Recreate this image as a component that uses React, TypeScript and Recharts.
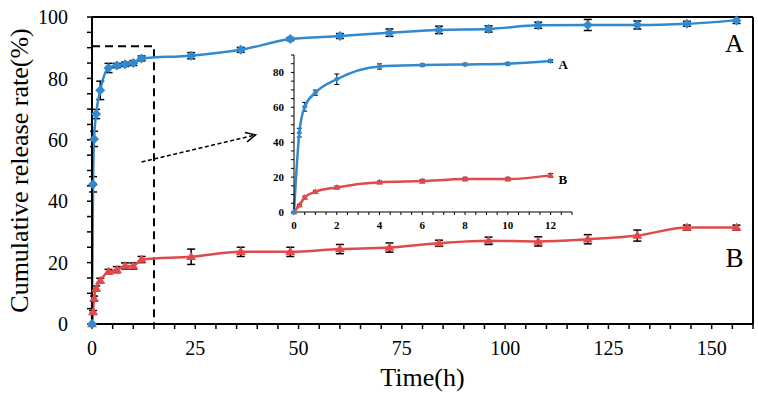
import React from "react";
import {
  LineChart,
  Line,
  XAxis,
  YAxis,
  ErrorBar,
  ReferenceLine,
  ReferenceArea,
  LabelList,
} from "recharts";

// sampling times (h) and release (%)
const times = [0, 0.25, 0.5, 1, 2, 4, 6, 8, 10, 12, 24, 36, 48, 60, 72, 84, 96, 108, 120, 132, 144, 156];
const releaseA = [0, 45.5, 60.3, 68.4, 76.1, 83.4, 84.2, 84.6, 85.0, 86.5, 87.4, 89.3, 92.8, 93.8, 94.9, 95.8, 96.1, 97.3, 97.4, 97.4, 97.8, 98.9];
const errA = [0, 2.5, 2.5, 1.5, 3, 1.5, 0.7, 0.7, 0.8, 0.8, 1, 0.8, 0.5, 0.8, 1.2, 1.2, 1, 1, 1.8, 1.3, 0.8, 1];
const releaseB = [0, 3.9, 8.3, 11.6, 14.1, 17.0, 17.7, 18.9, 18.9, 21.0, 21.9, 23.5, 23.5, 24.4, 24.9, 26.3, 27.1, 26.9, 27.6, 28.8, 31.4, 31.4];
const errB = [0, 0.5, 0.8, 0.8, 0.8, 0.8, 1, 1, 1, 1, 2.5, 1.5, 1.5, 1.5, 1.5, 1, 1.2, 1.5, 1.5, 1.8, 0.8, 0.8];

const mainXTicks = [0, 5, 10, 15, 20, 25, 30, 35, 40, 45, 50, 55, 60, 65, 70, 75, 80, 85, 90, 95, 100, 105, 110, 115, 120, 125, 130, 135, 140, 145, 150, 155, 160];
const mainYTicks = [0, 5, 10, 15, 20, 25, 30, 35, 40, 45, 50, 55, 60, 65, 70, 75, 80, 85, 90, 95, 100];
const insetXTicks = [0, 0.5, 1, 1.5, 2, 2.5, 3, 3.5, 4, 4.5, 5, 5.5, 6, 6.5, 7, 7.5, 8, 8.5, 9, 9.5, 10, 10.5, 11, 11.5, 12, 12.5, 13];
const insetYTicks = [0, 5, 10, 15, 20, 25, 30, 35, 40, 45, 50, 55, 60, 65, 70, 75, 80, 85, 90];

const rows = times.map((t, i) => ({ t, a: releaseA[i], aErr: errA[i], b: releaseB[i], bErr: errB[i] }));
const insetRows = rows.filter((r) => r.t <= 12);

const BLUE = "#3189cf";
const RED = "#e04a4b";
const SERIF = "'Liberation Serif', 'Times New Roman', serif";

const diamond = (r: number) => (p: any) => {
  const { cx, cy, index } = p;
  if (cx == null || cy == null) return <g key={`d${r}-${index}`} />;
  return (
    <path
      key={`d${r}-${index}`}
      d={`M${cx},${cy - r}L${cx + r},${cy}L${cx},${cy + r}L${cx - r},${cy}Z`}
      fill={BLUE}
    />
  );
};

const triangle = (r: number) => (p: any) => {
  const { cx, cy, index } = p;
  if (cx == null || cy == null) return <g key={`t${r}-${index}`} />;
  return (
    <path
      key={`t${r}-${index}`}
      d={`M${cx},${cy - r}L${cx + r},${cy + r * 0.65}L${cx - r},${cy + r * 0.65}Z`}
      fill={RED}
    />
  );
};

// dashed arrow from the zoom box to the inset
const arrowShape = (p: any) => {
  const { x1, y1, x2, y2 } = p;
  const ang = Math.atan2(y2 - y1, x2 - x1);
  const h = 11;
  const a1 = ang + Math.PI - 0.45;
  const a2 = ang + Math.PI + 0.45;
  return (
    <g>
      <line x1={x1} y1={y1} x2={x2} y2={y2} stroke="#000" strokeWidth={1.5} strokeDasharray="4 2.5" />
      <polyline
        points={`${x2 + h * Math.cos(a1)},${y2 + h * Math.sin(a1)} ${x2},${y2} ${x2 + h * Math.cos(a2)},${y2 + h * Math.sin(a2)}`}
        fill="none"
        stroke="#000"
        strokeWidth={1.5}
      />
    </g>
  );
};

const endLabel = (text: string, dx: number, dy: number, size: number, bold: boolean, anchor: string) => (p: any) => {
  if (p.index !== p.lastIndex) return null;
  return (
    <text
      x={p.x + dx}
      y={p.y + dy}
      textAnchor={anchor}
      dominantBaseline="central"
      fontFamily={SERIF}
      fontSize={size}
      fontWeight={bold ? "bold" : "normal"}
      fill="#000"
    >
      {text}
    </text>
  );
};

function MainChart() {
  const last = rows.length - 1;
  return (
    <LineChart
      width={758}
      height={402}
      data={rows}
      margin={{ top: 17, right: 5, bottom: 8, left: 0 }}
    >
      <XAxis
        type="number"
        dataKey="t"
        domain={[0, 160]}
        ticks={mainXTicks}
        interval={0}
        tickFormatter={(v) => (v % 25 === 0 ? String(v) : "")}
        tick={{ fill: "#000", fontSize: 20, fontFamily: SERIF }}
        axisLine={{ stroke: "#000", strokeWidth: 2 }}
        tickLine={{ stroke: "#000", strokeWidth: 1.5 }}
        tickSize={5}
        tickMargin={12}
        height={70}
        label={{
          value: "Time(h)",
          position: "insideBottom",
          offset: 8,
          style: { fill: "#000", fontSize: 26, fontFamily: SERIF },
        }}
      />
      <YAxis
        type="number"
        domain={[0, 100]}
        ticks={mainYTicks}
        interval={0}
        tickFormatter={(v) => (v % 20 === 0 ? String(v) : "")}
        tick={{ fill: "#000", fontSize: 20, fontFamily: SERIF }}
        axisLine={{ stroke: "#000", strokeWidth: 2 }}
        tickLine={{ stroke: "#000", strokeWidth: 1.5 }}
        tickSize={5}
        tickMargin={19}
        width={92}
        label={{
          value: "Cumulative release rate(%)",
          angle: -90,
          position: "insideLeft",
          offset: 19,
          style: { fill: "#000", fontSize: 26, fontFamily: SERIF, textAnchor: "middle" },
        }}
      />
      <ReferenceLine y={100} stroke="#000" strokeWidth={2} />
      <ReferenceLine x={160} stroke="#000" strokeWidth={2} />
      <ReferenceArea
        x1={0}
        x2={15}
        y1={0}
        y2={90.5}
        fill="none"
        fillOpacity={0}
        stroke="#000"
        strokeWidth={2}
        strokeDasharray="8 5"
      />
      <ReferenceLine
        segment={[
          { x: 12, y: 52.8 },
          { x: 39.6, y: 61.6 },
        ]}
        shape={arrowShape}
      />
      <Line
        type="monotone"
        dataKey="b"
        stroke={RED}
        strokeWidth={2.5}
        dot={triangle(5)}
        isAnimationActive={false}
      >
        <ErrorBar dataKey="bErr" width={4} stroke="#000" strokeWidth={1.5} direction="y" isAnimationActive={false} />
        <LabelList dataKey="b" content={(p: any) => endLabel("B", -2, 30, 27, false, "middle")({ ...p, lastIndex: last })} />
      </Line>
      <Line
        type="monotone"
        dataKey="a"
        stroke={BLUE}
        strokeWidth={2.5}
        dot={diamond(5)}
        isAnimationActive={false}
      >
        <ErrorBar dataKey="aErr" width={4} stroke="#000" strokeWidth={1.5} direction="y" isAnimationActive={false} />
        <LabelList dataKey="a" content={(p: any) => endLabel("A", -2, 23, 26, false, "middle")({ ...p, lastIndex: last })} />
      </Line>
    </LineChart>
  );
}

function InsetChart() {
  const last = insetRows.length - 1;
  return (
    <LineChart
      width={350}
      height={200}
      data={insetRows}
      margin={{ top: 10, right: 8, bottom: 8, left: 24 }}
    >
      <XAxis
        type="number"
        dataKey="t"
        domain={[0, 13]}
        ticks={insetXTicks}
        interval={0}
        tickFormatter={(v) => (v % 2 === 0 ? String(v) : "")}
        tick={{ fill: "#000", fontSize: 11, fontFamily: SERIF, fontWeight: "bold" }}
        axisLine={{ stroke: "#000", strokeWidth: 1 }}
        tickLine={{ stroke: "#000", strokeWidth: 1 }}
        tickSize={3}
        tickMargin={6}
        height={25}
      />
      <YAxis
        type="number"
        domain={[0, 90]}
        ticks={insetYTicks}
        interval={0}
        tickFormatter={(v) => (v % 20 === 0 ? String(v) : "")}
        tick={{ fill: "#000", fontSize: 11, fontFamily: SERIF, fontWeight: "bold" }}
        axisLine={{ stroke: "#000", strokeWidth: 1 }}
        tickLine={{ stroke: "#000", strokeWidth: 1 }}
        tickSize={3}
        tickMargin={7}
        width={40}
      />
      <Line
        type="monotone"
        dataKey="b"
        stroke={RED}
        strokeWidth={2.5}
        dot={triangle(3.5)}
        isAnimationActive={false}
      >
        <ErrorBar dataKey="bErr" width={2.5} stroke="#000" strokeWidth={1} direction="y" isAnimationActive={false} />
        <LabelList dataKey="b" content={(p: any) => endLabel("B", 8, 4, 13, true, "start")({ ...p, lastIndex: last })} />
      </Line>
      <Line
        type="monotone"
        dataKey="a"
        stroke={BLUE}
        strokeWidth={2.5}
        dot={diamond(3)}
        isAnimationActive={false}
      >
        <ErrorBar dataKey="aErr" width={2.5} stroke="#000" strokeWidth={1} direction="y" isAnimationActive={false} />
        <LabelList dataKey="a" content={(p: any) => endLabel("A", 8, 3, 13, true, "start")({ ...p, lastIndex: last })} />
      </Line>
    </LineChart>
  );
}

export default function App() {
  return (
    <div style={{ position: "absolute", left: 0, top: 0, width: 758, height: 402, background: "#fff" }}>
      <MainChart />
      <div style={{ position: "absolute", left: 230, top: 45 }}>
        <InsetChart />
      </div>
    </div>
  );
}
